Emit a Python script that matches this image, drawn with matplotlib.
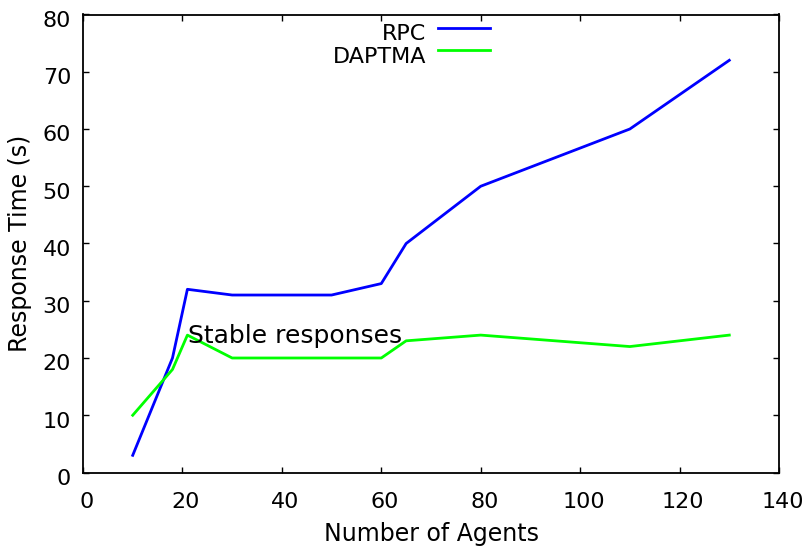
import matplotlib
matplotlib.use("Agg")
import matplotlib.pyplot as plt
from matplotlib.lines import Line2D
import matplotlib.transforms as mtransforms

plt.rcParams['font.family'] = ['DejaVu Sans']

agents_rpc = [10, 18, 21, 30, 50, 60, 65, 80, 110, 130]
rpc = [3, 20, 32, 31, 31, 33, 40, 50, 60, 72]
agents_dap = [10, 18, 21, 30, 60, 65, 80, 110, 130]
daptma = [10, 18, 24, 20, 20, 23, 24, 22, 24]
xticks = [0, 20, 40, 60, 80, 100, 120, 140]
yticks = [0, 10, 20, 30, 40, 50, 60, 70, 80]

W, H = 807, 549
fig = plt.figure(figsize=(W/100, H/100), dpi=100)
L, R, T, B = 83, 779, 14.5, 472.5
ax = fig.add_axes([L/W, 1-B/H, (R-L)/W, (B-T)/H])
ax.plot(agents_rpc, rpc, color='#0000ff', lw=2, label='RPC')
ax.plot(agents_dap, daptma, color='#00ff00', lw=2, label='DAPTMA')
ax.set_xlim(0, 140)
ax.set_ylim(0, 80)
ax.set_xticks(xticks)
ax.set_yticks(yticks)
ax.tick_params(direction='in', top=True, right=True, labelsize=16, length=4.3, width=1)
ax.tick_params(axis='x', pad=14.2)
ax.tick_params(axis='y', pad=8.6)
for s in ax.spines.values():
    s.set_linewidth(1.3)

xoff = mtransforms.ScaledTranslation(3.5/100, 0, fig.dpi_scale_trans)
yoff = mtransforms.ScaledTranslation(0, -4.5/100, fig.dpi_scale_trans)
for lab in ax.get_xticklabels():
    lab.set_transform(lab.get_transform() + xoff)
for lab in ax.get_yticklabels():
    lab.set_transform(lab.get_transform() + yoff)

ax.set_xlabel('Number of Agents', fontsize=17)
ax.xaxis.label.set_va('baseline')
ax.xaxis.set_label_coords(0.5, (B-540.7)/(B-T))
ax.set_ylabel('Response Time (s)', fontsize=17, va='center', ha='center')
ax.yaxis.set_label_coords((20-L)/(R-L), 0.5)

ax.text(21.1, 22.65, 'Stable responses', fontsize=18, va='baseline', ha='left')

# legend gnuplot-style
for label, color, ypix, base in [('RPC', '#0000ff', 28, 40.5), ('DAPTMA', '#00ff00', 50, 63)]:
    fig.text(426/W, 1-base/H, label, fontsize=16, ha='right', va='baseline')
    fig.add_artist(Line2D([438/W, 490/W], [1-ypix/H, 1-ypix/H], color=color, lw=2))

fig.savefig('out.png', dpi=100)
